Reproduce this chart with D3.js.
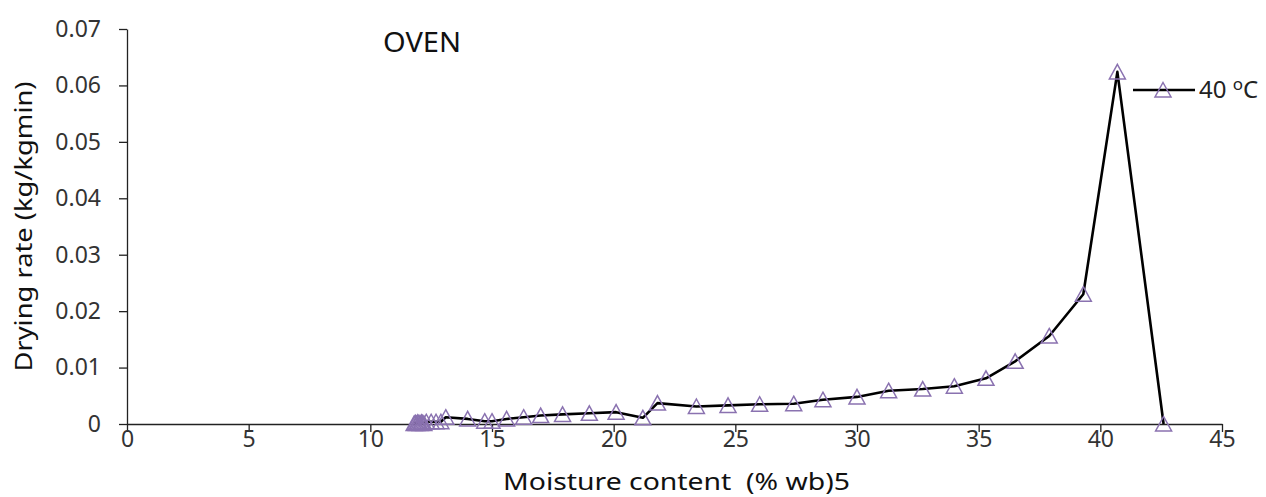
<!DOCTYPE html>
<html>
<head>
<meta charset="utf-8">
<script src="https://cdn.jsdelivr.net/npm/d3@7"></script>
<style>
  body { margin: 0; background: #fff; }
  svg { display: block; font-family: "Noto Sans", sans-serif; }
</style>
</head>
<body>
<script>
// moisture content (% wb) and drying rate (kg/kg min), 40 oC oven
var moisture = [11.8, 11.85, 11.9, 11.95, 12.0, 12.05, 12.1, 12.15, 12.2, 12.3, 12.5, 12.7, 12.9,
  13.1, 14.0, 14.7, 15.0, 15.6, 16.3, 17.0, 17.9, 19.0, 20.1, 21.2, 21.8, 23.4, 24.7, 26.0,
  27.4, 28.6, 30.0, 31.3, 32.7, 34.0, 35.3, 36.5, 37.9, 39.3, 40.7, 42.6];
var rate = [0.0001, 0.0002, 0.0001, 0.0003, 0.0002, 0.0001, 0.0003, 0.0002, 0.0001, 0.0004, 0.0004, 0.0004, 0.0004,
  0.0012, 0.0009, 0.0005, 0.0005, 0.0009, 0.0012, 0.0015, 0.0017, 0.0019, 0.0021, 0.0011, 0.0037, 0.0031, 0.0033, 0.0035,
  0.0036, 0.0043, 0.0048, 0.0059, 0.0062, 0.0067, 0.0081, 0.0111, 0.0156, 0.023, 0.0624, 0];
var xTicks = [0, 5, 10, 15, 20, 25, 30, 35, 40, 45];
var yTicks = [0, 0.01, 0.02, 0.03, 0.04, 0.05, 0.06, 0.07];
var seriesName = "40 ";

var W = 1266, H = 497;
var mLeft = 127, mRight = 1222, mTop = 29, mBottom = 424;
var purple = "#8a72b0";

var x = d3.scaleLinear().domain([0, 45]).range([mLeft, mRight]);
var y = d3.scaleLinear().domain([0, 0.07]).range([mBottom, mTop]);

var svg = d3.select("body").append("svg")
  .attr("width", W)
  .attr("height", H);

// axes
var xAxis = svg.append("g")
  .attr("transform", "translate(0," + mBottom + ")")
  .call(d3.axisBottom(x).tickValues(xTicks).tickSize(8).tickSizeOuter(0).tickFormat(d3.format("d")));
var yAxis = svg.append("g")
  .attr("transform", "translate(" + mLeft + ",0)")
  .call(d3.axisLeft(y).tickValues(yTicks).tickSize(8).tickSizeOuter(0).tickFormat(d => d === 0 ? "0" : d3.format(".2f")(d)));

[xAxis, yAxis].forEach(function (a) {
  a.select(".domain").attr("stroke", "#222").attr("stroke-width", 1.3);
  a.selectAll(".tick line").attr("stroke", "#222").attr("stroke-width", 1.3);
  a.selectAll(".tick text").attr("fill", "#333").attr("font-size", 23)
    .attr("font-family", "Noto Sans, sans-serif");
});
xAxis.selectAll(".tick text").attr("y", 7);
yAxis.selectAll(".tick text").attr("x", -26);

var pts = moisture.map((m, i) => ({ m: m, r: rate[i] }));

var line = d3.line()
  .x(d => x(d.m))
  .y(d => y(d.r));

svg.append("path")
  .attr("d", line(pts))
  .attr("fill", "none")
  .attr("stroke", "#000")
  .attr("stroke-width", 2.6)
  .attr("stroke-linejoin", "round");

var tri = "M0,-7.5L8,7L-8,7Z";
svg.selectAll("path.mk").data(pts)
  .enter().append("path")
  .attr("class", "mk")
  .attr("transform", d => "translate(" + x(d.m) + "," + y(d.r) + ")")
  .attr("d", tri)
  .attr("fill", "none")
  .attr("stroke", purple)
  .attr("stroke-width", 1.5);

// legend
var lg = svg.append("g").attr("transform", "translate(1133,90)");
lg.append("line").attr("x1", 0).attr("x2", 62).attr("y1", 0).attr("y2", 0)
  .attr("stroke", "#000").attr("stroke-width", 2.6);
lg.append("path").attr("transform", "translate(30,0)").attr("d", tri)
  .attr("fill", "none").attr("stroke", purple).attr("stroke-width", 1.5);
var lt = lg.append("text").attr("x", 66).attr("y", 8).attr("font-size", 24).attr("fill", "#222");
lt.append("tspan").text(seriesName);
lt.append("tspan").attr("dy", -8).attr("font-size", 17).text("o");
lt.append("tspan").attr("dy", 8).text("C");

// titles
svg.append("text")
  .attr("x", 383).attr("y", 52)
  .attr("font-size", 27).attr("fill", "#111")
  .attr("textLength", 78)
  .attr("lengthAdjust", "spacingAndGlyphs")
  .text("OVEN");

svg.append("text")
  .attr("transform", "translate(32," + ((mTop + mBottom) / 2) + ") rotate(-90)")
  .attr("text-anchor", "middle")
  .attr("font-size", 24).attr("fill", "#111")
  .attr("textLength", 290)
  .attr("lengthAdjust", "spacingAndGlyphs")
  .text("Drying rate (kg/kgmin)");

svg.append("text")
  .attr("x", 503).attr("y", 490)
  .attr("font-size", 24).attr("fill", "#111")
  .attr("xml:space", "preserve")
  .attr("textLength", 347)
  .attr("lengthAdjust", "spacingAndGlyphs")
  .text("Moisture content  (% wb)5");
</script>
</body>
</html>
